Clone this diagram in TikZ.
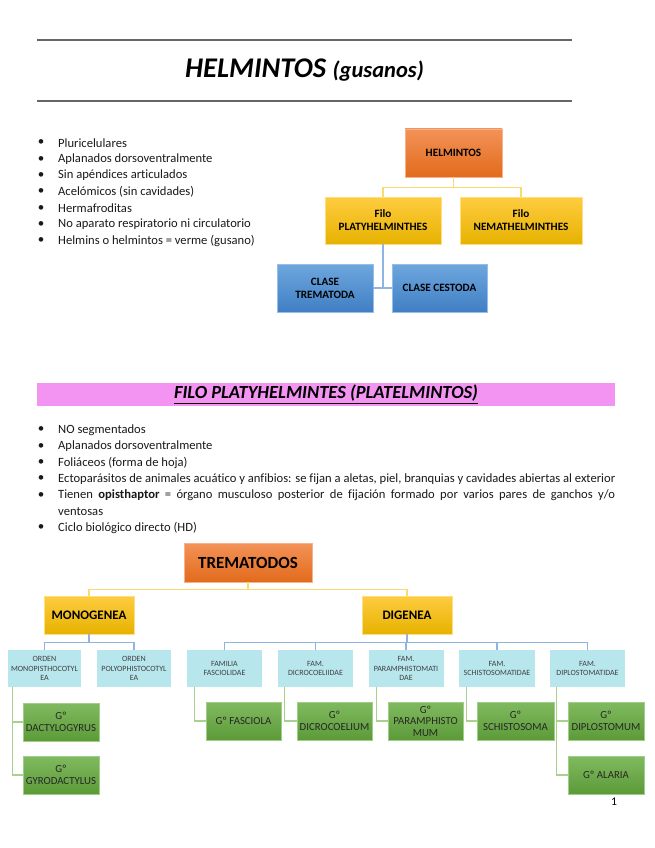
\documentclass[tikz,border=0pt]{standalone}
\usepackage{fontspec}
\usepackage{graphicx}
\setmainfont[Ligatures=NoCommon]{Carlito}
\usetikzlibrary{calc}
\newsavebox\jlinebox
\newcommand\justline[2]{\sbox\jlinebox{#2}\ifdim\wd\jlinebox>#1\relax\resizebox{#1}{\height}{\usebox\jlinebox}\else\makebox[#1][s]{#2}\fi}
\definecolor{orgtop}{RGB}{243,146,88}
\definecolor{orgbot}{RGB}{226,107,28}
\definecolor{orgbd}{RGB}{246,178,140}
\definecolor{ylwtop}{RGB}{255,204,64}
\definecolor{ylwbot}{RGB}{230,178,0}
\definecolor{ylwbd}{RGB}{255,222,130}
\definecolor{blutop}{RGB}{110,167,222}
\definecolor{blubot}{RGB}{64,127,196}
\definecolor{blubd}{RGB}{150,190,232}
\definecolor{cyanfill}{RGB}{183,230,236}
\definecolor{grntop}{RGB}{128,186,96}
\definecolor{grnbot}{RGB}{92,154,56}
\definecolor{grnbd}{RGB}{160,205,135}
\definecolor{yconn}{RGB}{255,216,110}
\definecolor{bconn}{RGB}{141,180,226}
\definecolor{gconn}{RGB}{169,209,142}
\definecolor{pinkban}{RGB}{243,148,243}
\tikzset{
  boxbase/.style={inner sep=0pt, align=center, line width=0.6pt},
  orangebox/.style={boxbase, draw=orgbd, top color=orgtop, bottom color=orgbot, text=black},
  yellowbox/.style={boxbase, draw=ylwbd, top color=ylwtop, bottom color=ylwbot, text=black},
  bluebox/.style={boxbase, draw=blubd, top color=blutop, bottom color=blubot, text=black},
  cyanbox/.style={boxbase, fill=cyanfill, text=black!75, font=\fontsize{8}{9.6}\selectfont, minimum width=75pt, minimum height=37pt},
  greenbox/.style={boxbase, draw=grnbd, top color=grntop, bottom color=grnbot, text=black!85, font=\fontsize{10.8}{11.6}\selectfont, minimum width=76pt, minimum height=38pt},
  lvlone/.style={font=\fontsize{11.2}{13}\selectfont\bfseries},
  yline/.style={draw=yconn, line width=1.3pt},
  bline/.style={draw=bconn, line width=1.3pt},
  gline/.style={draw=gconn, line width=1.3pt},
  bodytext/.style={anchor=west, inner sep=0pt, font=\fontsize{12.6}{14}\selectfont, text=black!90},
  bul/.style={inner sep=0pt, font=\fontsize{13}{14}\selectfont, text=black!90},
}
\begin{document}
\begin{tikzpicture}[x=1pt,y=-1pt]
\useasboundingbox (0,0) rectangle (655,848);
% header
\coordinate (hl1a) at (37,40); \coordinate (hl1b) at (572,40);
\coordinate (hl2a) at (37,101); \coordinate (hl2b) at (572,101);
\draw[black!60, line width=1.3pt] (hl1a) -- (hl1b);
\draw[black!60, line width=1.3pt] (hl2a) -- (hl2b);
\node[inner sep=0pt] (title) at (304.5,70) {\fontsize{28.5}{30}\selectfont\bfseries\itshape HELMINTOS \fontsize{22.5}{24}\selectfont(gusanos)};
% bullets section 1
\foreach \t [count=\i] in {Pluricelulares, Aplanados dorsoventralmente, Sin apéndices articulados, Acelómicos (sin cavidades), Hermafroditas, No aparato respiratorio ni circulatorio, Helmins o helmintos = verme (gusano)}{
  \node[bul] (ba\i) at (41,{143+16.3*(\i-1)}) {\textbullet};
  \node[bodytext] (ta\i) at (58,{143+16.3*(\i-1)}) {\t};
}
% tree 1
\node[orangebox, lvlone, minimum width=97pt, minimum height=48pt] (helm) at (453.5,153) {HELMINTOS};
\node[yellowbox, lvlone, minimum width=116pt, minimum height=47pt] (platy) at (383,220.5) {Filo\\PLATYHELMINTHES};
\node[yellowbox, lvlone, minimum width=122pt, minimum height=47pt] (nema) at (521,220.5) {Filo\\NEMATHELMINTHES};
\node[bluebox, lvlone, minimum width=96pt, minimum height=48pt] (tremc) at (325,288) {CLASE\\TREMATODA};
\node[bluebox, lvlone, minimum width=95pt, minimum height=48pt] (cest) at (439.5,288) {CLASE CESTODA};
\draw[yline] (helm.south) -- ++(0,10) -| (platy.north);
\draw[yline] (helm.south) -- ++(0,10) -| (nema.north);
\draw[bline] (platy.south) |- (tremc.east);
\draw[bline] (platy.south) |- (cest.west);
% banner
\node[fill=pinkban, minimum width=578pt, minimum height=23pt, inner sep=0pt] (banner) at (326,394.5) {\fontsize{18.5}{20}\selectfont\bfseries\itshape\underline{FILO PLATYHELMINTES (PLATELMINTOS)}};
% bullets section 2
\node[bul] (bb1) at (41,430) {\textbullet};
\node[bodytext] (tb1) at (58,430) {NO segmentados};
\node[bul] (bb2) at (41,446.3) {\textbullet};
\node[bodytext] (tb2) at (58,446.3) {Aplanados dorsoventralmente};
\node[bul] (bb3) at (41,462.6) {\textbullet};
\node[bodytext] (tb3) at (58,462.6) {Foliáceos (forma de hoja)};
\node[bul] (bb4) at (41,478.9) {\textbullet};
\node[bodytext] (tb4) at (58,478.9) {\justline{557pt}{Ectoparásitos de animales acuático y anfibios: se fijan a aletas, piel, branquias y cavidades abiertas al exterior}};
\node[bul] (bb5) at (41,495.2) {\textbullet};
\node[bodytext] (tb5) at (58,495.2) {\justline{557pt}{Tienen \textbf{opisthaptor} = órgano musculoso posterior de fijación formado por varios pares de ganchos y/o}};
\node[bodytext] (tb5b) at (58,511.5) {ventosas};
\node[bul] (bb6) at (41,527.8) {\textbullet};
\node[bodytext] (tb6) at (58,527.8) {Ciclo biológico directo (HD)};
% tree 2
\node[orangebox, font=\fontsize{17}{19}\selectfont\bfseries, minimum width=128pt, minimum height=39pt] (trem) at (248,562.5) {TREMATODOS};
\node[yellowbox, font=\fontsize{13}{15}\selectfont\bfseries, minimum width=90pt, minimum height=38pt] (mono) at (89,615) {MONOGENEA};
\node[yellowbox, font=\fontsize{13}{15}\selectfont\bfseries, minimum width=90pt, minimum height=38pt] (dig) at (407,615) {DIGENEA};
\draw[yline] (trem.south) -- ++(0,7) -| (mono.north);
\draw[yline] (trem.south) -- ++(0,7) -| (dig.north);
% orders
\node[cyanbox, minimum width=73pt] (ord1) at (44.5,668.5) {ORDEN\\MONOPISTHOCOTYL\\EA};
\node[cyanbox, minimum width=74pt] (ord2) at (134,668.5) {ORDEN\\POLYOPHISTOCOTYL\\EA};
\draw[bline] (mono.south) -- ++(0,8) -| (ord1.north);
\draw[bline] (mono.south) -- ++(0,8) -| (ord2.north);
% families
\node[cyanbox] (fam1) at (224.5,668.5) {FAMILIA\\FASCIOLIDAE};
\node[cyanbox] (fam2) at (315.5,668.5) {FAM.\\DICROCOELIIDAE};
\node[cyanbox] (fam3) at (406,668.5) {FAM.\\PARAMPHISTOMATI\\DAE};
\node[cyanbox, minimum width=76pt] (fam4) at (497,668.5) {FAM.\\SCHISTOSOMATIDAE};
\node[cyanbox] (fam5) at (587.5,668.5) {FAM.\\DIPLOSTOMATIDAE};
\foreach \f in {fam1,fam2,fam3,fam4,fam5}{
  \draw[bline] (dig.south) -- ++(0,8) -| (\f.north);
}
% genera
\node[greenbox] (g1) at (61,722) {Gº\\DACTYLOGYRUS};
\node[greenbox] (g2) at (61,775) {Gº\\GYRODACTYLUS};
\node[greenbox, minimum width=75pt] (g3) at (243.5,721) {Gº FASCIOLA};
\node[greenbox, minimum width=75pt] (g4) at (334.5,721) {Gº\\DICROCOELIUM};
\node[greenbox, minimum width=75pt] (g5) at (425.5,721) {Gº\\PARAMPHISTO\\MUM};
\node[greenbox, minimum width=77pt] (g6) at (515.5,721) {Gº\\SCHISTOSOMA};
\node[greenbox] (g7) at (606,721) {Gº\\DIPLOSTOMUM};
\node[greenbox] (g8) at (606,775) {Gº ALARIA};
\draw[gline] ($(ord1.south west)+(5,0)$) |- (g1.west);
\draw[gline] ($(ord1.south west)+(5,0)$) |- (g2.west);
\draw[gline] ($(fam1.south west)+(8,0)$) |- (g3.west);
\draw[gline] ($(fam2.south west)+(7,0)$) |- (g4.west);
\draw[gline] ($(fam3.south west)+(8,0)$) |- (g5.west);
\draw[gline] ($(fam4.south west)+(8,0)$) |- (g6.west);
\draw[gline] ($(fam5.south west)+(7,0)$) |- (g7.west);
\draw[gline] ($(fam5.south west)+(7,0)$) |- (g8.west);
% page number
\node[inner sep=0pt, font=\fontsize{11.7}{14}\selectfont] (pnum) at (614,802) {1};
\end{tikzpicture}
\end{document}
